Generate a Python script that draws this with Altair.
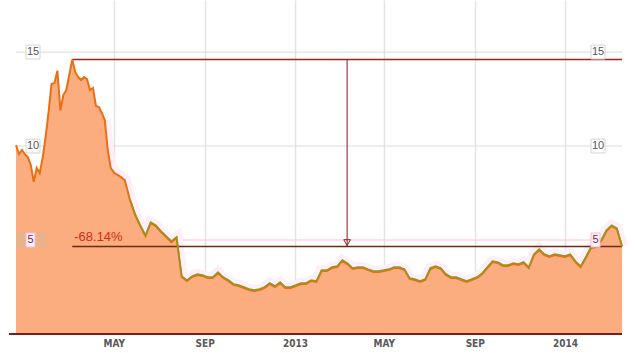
import altair as alt
import pandas as pd

# ---- data ----
early_start = "2011-12-21"          # sampled every 4 days
early_values = [10.05, 9.57, 9.79, 9.57, 9.41, 8.99, 8.1, 8.83, 8.56, 9.36,
                10.48, 11.81, 13.3, 13.35, 14.0, 11.9, 12.71, 12.98, 13.78, 14.6,
                13.94, 13.67, 13.51, 13.67, 13.56, 12.98, 13.09, 12.13, 12.07, 11.76,
                11.38, 9.79, 8.83]
late_start = "2012-05-02"           # sampled weekly
late_values = [8.56, 8.4, 8.19, 7.13, 6.33, 5.74, 5.21, 5.9, 5.74, 5.43,
               5.16, 4.89, 5.11, 3.03, 2.82, 3.03, 3.14, 3.09, 2.98, 2.98,
               3.24, 2.98, 2.82, 2.61, 2.55, 2.45, 2.34, 2.29, 2.34, 2.45,
               2.66, 2.5, 2.71, 2.45, 2.45, 2.55, 2.66, 2.66, 2.82, 2.77,
               3.35, 3.35, 3.51, 3.56, 3.88, 3.72, 3.46, 3.51, 3.51, 3.4,
               3.3, 3.3, 3.35, 3.4, 3.51, 3.51, 3.4, 2.93, 2.87, 2.77,
               2.87, 3.46, 3.56, 3.46, 3.14, 2.98, 2.98, 2.87, 2.77, 2.87,
               2.98, 3.19, 3.51, 3.83, 3.78, 3.62, 3.62, 3.72, 3.67, 3.78,
               3.51, 4.2, 4.47, 4.2, 4.1, 4.2, 4.15, 4.1, 4.2, 3.83,
               3.56, 4.04, 4.57, 4.63, 4.95, 5.48, 5.74, 5.59, 4.652]
axis_end = "2014-03-19"
month_ticks = ["2012-05-01", "2012-09-01", "2013-01-01", "2013-05-01", "2013-09-01", "2014-01-01"]
level_ticks = [5, 10, 15]
olive_from = "2012-05-20"
glow_from = "2012-04-18"


def dt(s):
    t = pd.Timestamp(s)
    return alt.DateTime(year=t.year, month=t.month, date=t.day)


dates = list(pd.date_range(early_start, periods=len(early_values), freq="4D")) + \
    list(pd.date_range(late_start, periods=len(late_values), freq="7D"))
df = pd.DataFrame({"date": dates, "v": early_values + late_values})

imax = int(df["v"].idxmax())
peak = float(df["v"].max())
last = float(df["v"].iloc[-1])
peak_date = df["date"].iloc[imax]
end_date = df["date"].iloc[-1]
mid_date = peak_date + (end_date - peak_date) / 2
label = f"{(last / peak - 1) * 100:.2f}%"
ann = pd.DataFrame({"d0": [peak_date], "d1": [end_date], "mid": [mid_date],
                    "peak": [peak], "last": [last], "label": [label]})

sides = pd.DataFrame([{"side": s, "v": v} for s in ["L", "R"] for v in level_ticks])
levels = pd.DataFrame({"v": level_ticks})

W, H = 606, 334
x_scale = alt.Scale(domain=[dt(early_start), dt(axis_end)])
y_scale = alt.Scale(domain=[0, 17.77], nice=False, zero=True)
x_axis = alt.Axis(
    values=[dt(s) for s in month_ticks],
    labelExpr="month(datum.value) == 0 ? timeFormat(datum.value, '%Y') : upper(timeFormat(datum.value, '%b'))",
    title=None, ticks=False, domain=False, grid=True, gridColor="#e4e4e4", gridWidth=1.5,
    labelFont="Liberation Sans Narrow, DejaVu Sans Condensed, sans-serif", labelFontSize=10,
    labelFontWeight="bold", labelColor="#595959", labelPadding=4)


def X(f):
    return alt.X(f, scale=x_scale, axis=x_axis)


def Y(f):
    return alt.Y(f, scale=y_scale, axis=None)


is5 = alt.datum.v == 5

grid_h = alt.Chart(levels).mark_rule(strokeWidth=1).encode(
    x=alt.value(0), x2=alt.value(W), y=Y("v:Q"),
    color=alt.condition(is5, alt.value("#f6c6dc"), alt.value("#dcdcdc")))

glow = alt.Chart(df).transform_filter(
    alt.FieldGTEPredicate(field="date", gte=dt(glow_from))
).mark_line(color="#fdeef8", strokeWidth=12, strokeJoin="miter").encode(x=X("date:T"), y=Y("v:Q"))

area = alt.Chart(df).mark_area(color="#fbad7f", opacity=1).encode(x=X("date:T"), y=Y("v:Q"))

peak_rule = alt.Chart(ann).mark_rule(color="#a61e1e", strokeWidth=1.5).encode(
    x=X("d0:T"), x2="d1:T", y=Y("peak:Q"))
end_rule = alt.Chart(ann).mark_rule(color="#6f2a12", strokeWidth=1.5).encode(
    x=X("d0:T"), x2="d1:T", y=Y("last:Q"))
vert = alt.Chart(ann).mark_rule(color="#7a1f1f", strokeWidth=1).encode(
    x=X("mid:T"), y=Y("peak:Q"), y2="last:Q")
arrow = alt.Chart(ann).mark_point(shape="triangle-down", filled=False, size=45,
                                  color="#8a2a1a", strokeWidth=1, yOffset=-4, opacity=1).encode(
    x=X("mid:T"), y=Y("last:Q"))
pct_text = alt.Chart(ann).mark_text(align="left", baseline="alphabetic", dx=2, dy=-6, fontSize=13,
                                    font="Liberation Sans, Arial, sans-serif", color="#d12b1b").encode(
    x=X("d0:T"), y=Y("last:Q"), text="label:N")

orange = alt.Chart(df).mark_line(color="#ea6f12", strokeWidth=2).encode(x=X("date:T"), y=Y("v:Q"))
olive = alt.Chart(df).transform_filter(
    alt.FieldGTEPredicate(field="date", gte=dt(olive_from))
).mark_line(color="#8d9a22", strokeWidth=1.5, yOffset=-1).encode(x=X("date:T"), y=Y("v:Q"))

baseline = alt.Chart(levels).mark_rule(color="#7b1a1a", strokeWidth=1.5).encode(
    x=alt.value(-7), x2=alt.value(W), y=alt.value(H))

box_calc = alt.Chart(sides).transform_calculate(
    w="4 + 5 * length(toString(datum.v))",
    x0="datum.side == 'L' ? 10 : 575",
    x1="datum.x0 + datum.w",
    xc="datum.x0 + datum.w / 2",
    lo="datum.v - 0.37",
    hi="datum.v + 0.37",
)
tan_band = alt.Chart(levels).transform_filter(is5).transform_calculate(
    lo="datum.v - 0.4", hi="datum.v + 0.4"
).mark_rect(color="#e9b389").encode(x=alt.value(0), x2=alt.value(31), y=Y("lo:Q"), y2="hi:Q")
boxes = box_calc.mark_rect(strokeWidth=1).encode(
    x=alt.X("x0:Q", scale=None), x2="x1:Q", y=Y("lo:Q"), y2="hi:Q",
    fill=alt.condition(is5, alt.value("#fff2f8"), alt.value("#ffffff")),
    stroke=alt.condition(is5, alt.value("#f2bdd6"), alt.value("#d5d5d5")))
box_text = box_calc.mark_text(fontSize=11, font="Liberation Sans, Arial, sans-serif", baseline="middle").encode(
    x=alt.X("xc:Q", scale=None), y=Y("v:Q"), text="v:N",
    color=alt.condition(is5, alt.value("#7a1f45"), alt.value("#555555")))

chart = alt.layer(
    grid_h, glow, area, peak_rule, end_rule, vert, arrow, pct_text,
    orange, olive, baseline, tan_band, boxes, box_text
).properties(
    width=W, height=H,
    padding={"left": 16, "top": 0, "right": 13, "bottom": 19},
    autosize=alt.AutoSizeParams(type="none"),
    background="white",
).configure_view(stroke=None)

chart.save("out.html", embed_options={"renderer": "svg", "actions": False})
